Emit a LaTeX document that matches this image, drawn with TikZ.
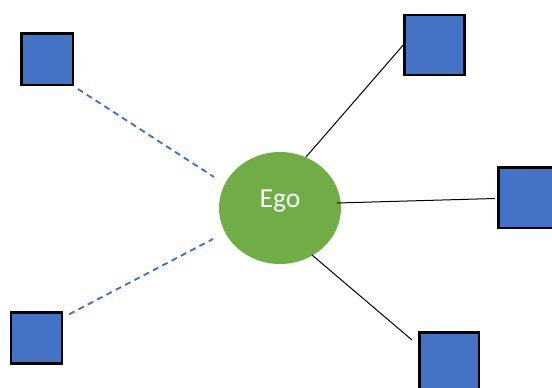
\documentclass[tikz,border=0pt]{standalone}
\usepackage{fontspec}
\setmainfont{Carlito}
\usetikzlibrary{shapes.geometric,calc}
\definecolor{alterblue}{HTML}{4472C4}
\definecolor{egogreen}{HTML}{70AD47}
\tikzset{
  alter/.style={draw=black, fill=alterblue, line width=2.5pt, minimum size=#1, inner sep=0pt, shape=rectangle},
  egonode/.style={ellipse, fill=egogreen, minimum width=122pt, minimum height=112pt, inner sep=0pt},
  egotext/.style={text=white, font=\fontsize{27.5}{33}\selectfont, inner sep=0pt},
  weaktie/.style={draw=alterblue, line width=1.9pt, dash pattern=on 6pt off 4.5pt},
  strongtie/.style={draw=black, line width=1pt},
}
\begin{document}
\begin{tikzpicture}[x=1pt,y=-1pt]
  \useasboundingbox (0,0) rectangle (552,388);

  % ego and its alters
  \node (ego) [egonode] at (280,208) {};
  \node (egolabel) [egotext, anchor=base] at ($(ego.center)+(0,-1)$) {Ego};

  \node (tl) [alter=51.5pt] at (47,59) {};
  \node (bl) [alter=51pt] at (36.5,338) {};
  \node (tr) [alter=60pt] at (434.5,45) {};
  \node (r)  [alter=60.5pt] at (528.5,197.5) {};
  \node (br) [alter=59.5pt] at (449,362) {};

  % connector ends
  \coordinate (tlA) at ($(tl.south east)+(4,3)$);
  \coordinate (tlB) at ($(ego.center)+(-66,-31)$);
  \coordinate (blA) at ($(bl.north east)+(6,3)$);
  \coordinate (blB) at ($(ego.center)+(-67,31)$);
  \coordinate (trB) at ($(ego.center)+(26,-51)$);
  \coordinate (rB)  at ($(ego.center)+(57,-5)$);
  \coordinate (brB) at ($(ego.center)+(32,47)$);
  \coordinate (brA) at ($(br.north west)+(-6,9)$);

  % weak ties
  \draw[weaktie] (tlA) -- (tlB);
  \draw[weaktie] (blA) -- (blB);

  % strong ties
  \draw[strongtie] (trB) -- (tr.west);
  \draw[strongtie] (rB) -- ($(r.west)+(-2,1)$);
  \draw[strongtie] (brB) -- (brA);
\end{tikzpicture}
\end{document}
